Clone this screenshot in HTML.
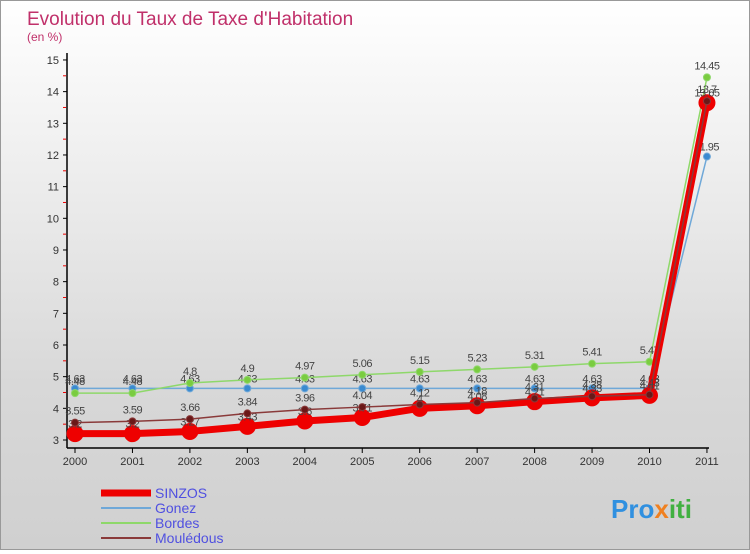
<!DOCTYPE html>
<html><head><meta charset="utf-8"><style>
body{margin:0;width:750px;height:550px;overflow:hidden;font-family:"Liberation Sans",sans-serif}
#wrap{position:relative;width:748px;height:548px;border:1px solid #999;background:linear-gradient(#fff,#d8d8d8 70%,#d0d0d0);}
</style></head><body>
<div id="wrap">
<svg id="chart" width="748" height="548"></svg>
</div>
<script>
const years=["2000","2001","2002","2003","2004","2005","2006","2007","2008","2009","2010","2011"];
const sinzos=[3.2,3.2,3.27,3.43,3.6,3.71,4.0,4.08,4.21,4.33,4.41,13.65];
const gonez=[4.63,4.63,4.63,4.63,4.63,4.63,4.63,4.63,4.63,4.63,4.63,11.95];
const bordes=[4.48,4.48,4.8,4.9,4.97,5.06,5.15,5.23,5.31,5.41,5.47,14.45];
const mouledous=[3.55,3.59,3.66,3.84,3.96,4.04,4.12,4.18,4.31,4.38,4.43,13.7];
const yTicks=[3,4,5,6,7,8,9,10,11,12,13,14,15];
const NS="http://www.w3.org/2000/svg";
const svg=document.getElementById('chart');
const X=i=>74+i*57.45, Y=v=>439-(v-3)*31.67;
function mk(t,a,p){const e=document.createElementNS(NS,t);for(const k in a)e.setAttribute(k,a[k]);(p||svg).appendChild(e);return e;}
let t=mk('text',{x:26,y:24,'font-size':19,fill:'#c0306a'});t.textContent="Evolution du Taux de Taxe d'Habitation";

t=mk('text',{x:26,y:40,'font-size':12,fill:'#c0306a'});t.textContent="(en %)";

let ax=mk('line',{x1:66,y1:52,x2:66,y2:447,stroke:'#000','stroke-width':1.5});

ax=mk('line',{x1:66,y1:447,x2:708,y2:447,stroke:'#000','stroke-width':1.5});

yTicks.forEach(v=>{mk('line',{x1:62,y1:Y(v),x2:66,y2:Y(v),stroke:'#000'});
 if(v<15)mk('line',{x1:62,y1:Y(v+0.5),x2:65,y2:Y(v+0.5),stroke:'#e00'});
 const l=mk('text',{x:58,y:Y(v)+4,'font-size':11,fill:'#333','text-anchor':'end'});l.textContent=v;
 });
years.forEach((y,i)=>{mk('line',{x1:X(i),y1:447,x2:X(i),y2:452,stroke:'#000'});
 const l=mk('text',{x:X(i),y:464,'font-size':11,fill:'#333','text-anchor':'middle'});l.textContent=y;
 });
function series(name,data,col,w,r,dot,labelDy){
 const g=mk('g',{});
 mk('polyline',{points:data.map((v,i)=>X(i)+','+Y(v)).join(' '),fill:'none',stroke:col,'stroke-width':w,'stroke-linejoin':'round'},g);
 data.forEach((v,i)=>{const c=mk('circle',{cx:X(i),cy:Y(v),r:r,fill:dot,stroke:col,'stroke-width':1},g);
  
  const l=mk('text',{x:X(i),y:Y(v)+labelDy,'font-size':11,fill:'#444','text-anchor':'middle','letter-spacing':'-0.5'},g);l.textContent=v;
  });
}
series('gonez',gonez,'#6fa8d8',1.5,3.5,'#3a8ad0',-6);
series('bordes',bordes,'#8ed86a',1.5,3.5,'#7acc40',-8);
series('sinzos',sinzos,'#ee0000',7,8,'#ee0000',-6);
series('mouledous',mouledous,'#8a3a3a',1.5,3.5,'#6a1818',-8);
const leg=[["SINZOS","#ee0000",7],["Gonez","#6fa8d8",2],["Bordes","#8ed86a",2],["Moulédous","#8a3a3a",2]];
leg.forEach((e,i)=>{const g=mk('g',{});
 mk('line',{x1:100,y1:492+i*15,x2:150,y2:492+i*15,stroke:e[1],'stroke-width':e[2]},g);
 const l=mk('text',{x:154,y:497+i*15,'font-size':14,fill:'#5050e0'},g);l.textContent=e[0];});
const logo=mk('text',{x:610,y:517,'font-size':26,'font-weight':'bold',fill:'#3090e0'});

[["Pro","#3090e0"],["x","#f08020"],["iti","#40b040"]].forEach(p=>{const s=mk('tspan',{fill:p[1]},logo);s.textContent=p[0];});
</script>
</body></html>
